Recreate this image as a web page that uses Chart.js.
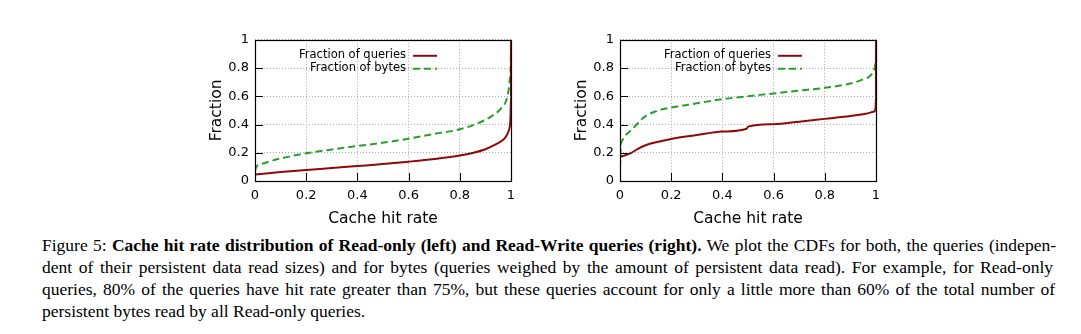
<!DOCTYPE html>
<html>
<head>
<meta charset="utf-8">
<script src="https://cdn.jsdelivr.net/npm/chart.js@4.4.0/dist/chart.umd.min.js"></script>
<style>
  body { margin: 0; background: #fff; width: 1081px; height: 334px; overflow: hidden; position: relative; }
  .plot { position: absolute; top: 26px; width: 340px; height: 204px; }
  #left-plot { left: 190px; }
  #right-plot { left: 555px; }
  .caption { position: absolute; left: 42px; font-family: 'Liberation Serif', 'Times New Roman', serif;
             font-size: 17.5px; color: #000; white-space: nowrap; line-height: 22px; }
  .caption b { font-weight: bold; }
</style>
</head>
<body>
<div class="plot" id="left-plot"><canvas id="chart-left" width="340" height="204"></canvas></div>
<div class="plot" id="right-plot"><canvas id="chart-right" width="340" height="204"></canvas></div>

<div class="caption" id="cap1" style="top:234px" data-fit="1014">Figure 5: <b>Cache hit rate distribution of Read-only (left) and Read-Write queries (right).</b> We plot the CDFs for both, the queries (indepen-</div>
<div class="caption" id="cap2" style="top:256px" data-fit="1011">dent of their persistent data read sizes) and for bytes (queries weighed by the amount of persistent data read). For example, for Read-only</div>
<div class="caption" id="cap3" style="top:278px" data-fit="1013">queries, 80% of the queries have hit rate greater than 75%, but these queries account for only a little more than 60% of the total number of</div>
<div class="caption" id="cap4" style="top:300px">persistent bytes read by all Read-only queries.</div>

<script>
// --- DATA ---
const tickValues = [0, 0.2, 0.4, 0.6, 0.8, 1];
const tickLabels = ['0', '0.2', '0.4', '0.6', '0.8', '1'];
const seriesNames = ['Fraction of queries', 'Fraction of bytes'];

// Read-only (left)
const roQueriesX = [0, 0.1, 0.2, 0.3, 0.4, 0.5, 0.6, 0.7, 0.8, 0.85, 0.9, 0.93, 0.96, 0.975, 0.984, 0.99, 0.995, 0.998, 1, 1];
const roQueriesY = [0.046, 0.063, 0.078, 0.092, 0.106, 0.12, 0.137, 0.156, 0.18, 0.198, 0.225, 0.25, 0.28, 0.302, 0.326, 0.35, 0.385, 0.45, 0.6, 1];
const roBytesX = [0, 0.005, 0.022, 0.06, 0.113, 0.2, 0.308, 0.4, 0.503, 0.6, 0.698, 0.8, 0.88, 0.932, 0.965, 0.984, 0.995, 0.999, 1];
const roBytesY = [0.07, 0.1, 0.118, 0.14, 0.165, 0.196, 0.225, 0.248, 0.272, 0.3, 0.333, 0.366, 0.416, 0.468, 0.522, 0.586, 0.716, 0.85, 1];

// Read-Write (right)
const rwQueriesX = [0, 0, 0.02, 0.04, 0.07, 0.1, 0.15, 0.2, 0.3, 0.4, 0.495, 0.5, 0.6, 0.7, 0.8, 0.9, 0.96, 0.99, 0.998, 1, 1];
const rwQueriesY = [0.16, 0.172, 0.182, 0.195, 0.228, 0.253, 0.278, 0.298, 0.325, 0.35, 0.37, 0.385, 0.402, 0.42, 0.44, 0.46, 0.476, 0.49, 0.51, 0.6, 1];
const rwBytesX = [0, 0.003, 0.01, 0.02, 0.05, 0.08, 0.1, 0.15, 0.2, 0.3, 0.4, 0.5, 0.6, 0.7, 0.8, 0.9, 0.95, 0.98, 0.995, 1, 1];
const rwBytesY = [0.1, 0.25, 0.29, 0.32, 0.37, 0.43, 0.46, 0.5, 0.52, 0.55, 0.58, 0.6, 0.62, 0.64, 0.66, 0.69, 0.72, 0.75, 0.8, 0.86, 1];

const RED = '#8e0a0a';
const GREEN = '#2a9e2a';

function toPoints(xs, ys) {
    return xs.map((x, i) => ({ x: x, y: ys[i] }));
}

// gnuplot-like frame, inner ticks and legend
const framePlugin = {
    id: 'frame',
    afterDatasetsDraw(chart) {
        const { ctx, chartArea: a, scales } = chart;
        ctx.save();
        ctx.strokeStyle = '#000';
        ctx.lineWidth = 1;
        ctx.beginPath();
        tickValues.forEach(v => {
            const px = Math.round(scales.x.getPixelForValue(v)) + 0.5;
            ctx.moveTo(px, a.bottom);
            ctx.lineTo(px, a.bottom - 8);
            const py = Math.round(scales.y.getPixelForValue(v)) + 0.5;
            ctx.moveTo(a.left, py);
            ctx.lineTo(a.left + 8, py);
        });
        ctx.stroke();
        ctx.lineWidth = 1.2;
        ctx.strokeRect(Math.round(a.left) + 0.5, Math.round(a.top) + 0.5,
                       Math.round(a.right - a.left), Math.round(a.bottom - a.top));

        // legend, text right aligned with a line sample after it
        ctx.font = "11.5px 'DejaVu Sans'";
        ctx.textAlign = 'right';
        ctx.textBaseline = 'middle';
        chart.data.datasets.forEach((ds, i) => {
            const y = a.top + 15.5 + i * 13;
            ctx.fillStyle = '#000';
            ctx.fillText(ds.label, a.right - 105, y);
            ctx.strokeStyle = ds.borderColor;
            ctx.lineWidth = 2;
            ctx.setLineDash(ds.borderDash || []);
            ctx.beginPath();
            ctx.moveTo(a.right - 98, y + 0.5);
            ctx.lineTo(a.right - 74, y + 0.5);
            ctx.stroke();
        });
        ctx.restore();
    }
};

function renderCdfChart(canvasId, qx, qy, bx, by) {
    const ctx = document.getElementById(canvasId);
    const tickFont = { family: "'DejaVu Sans'", size: 13 };
    const titleFont = { family: "'DejaVu Sans'", size: 15.5 };

    return new Chart(ctx, {
        type: 'line',
        data: {
            datasets: [
                {
                    label: seriesNames[0],
                    data: toPoints(qx, qy),
                    borderColor: RED,
                    borderWidth: 2,
                    pointRadius: 0,
                    cubicInterpolationMode: 'monotone',
                    fill: false
                },
                {
                    label: seriesNames[1],
                    data: toPoints(bx, by),
                    borderColor: GREEN,
                    borderWidth: 2,
                    borderDash: [7, 4],
                    pointRadius: 0,
                    cubicInterpolationMode: 'monotone',
                    fill: false
                }
            ]
        },
        options: {
            responsive: false,
            animation: false,
            events: [],
            layout: { padding: { left: 0, right: 19, top: 10, bottom: 0 } },
            plugins: { legend: { display: false }, tooltip: { enabled: false } },
            scales: {
                x: {
                    type: 'linear',
                    min: 0,
                    max: 1,
                    afterBuildTicks: s => { s.ticks = tickValues.map(v => ({ value: v })); },
                    afterFit: s => { s.height = 49; },
                    grid: { color: '#a8a8a8', lineWidth: 1, drawTicks: false },
                    border: { display: false, dash: [1, 2] },
                    ticks: {
                        color: '#000',
                        font: tickFont,
                        padding: 7,
                        maxRotation: 0,
                        callback: (v, i) => tickLabels[i]
                    },
                    title: { display: true, text: 'Cache hit rate', color: '#000', font: titleFont, padding: { top: 0, bottom: 2 } }
                },
                y: {
                    type: 'linear',
                    min: 0,
                    max: 1,
                    afterBuildTicks: s => { s.ticks = tickValues.map(v => ({ value: v })); },
                    afterFit: s => { s.width = 65; },
                    grid: { color: '#a8a8a8', lineWidth: 1, drawTicks: false },
                    border: { display: false, dash: [1, 2] },
                    ticks: {
                        color: '#000',
                        font: tickFont,
                        padding: 6,
                        callback: (v, i) => tickLabels[i]
                    },
                    title: { display: true, text: 'Fraction', color: '#000', font: titleFont, padding: { top: 18, bottom: 0 } }
                }
            }
        },
        plugins: [framePlugin]
    });
}

renderCdfChart('chart-left', roQueriesX, roQueriesY, roBytesX, roBytesY);
renderCdfChart('chart-right', rwQueriesX, rwQueriesY, rwBytesX, rwBytesY);

// stretch caption lines to the full text width (justified look)
document.querySelectorAll('.caption[data-fit]').forEach(el => {
    const target = parseFloat(el.dataset.fit);
    const w = el.getBoundingClientRect().width;
    const spaces = (el.textContent.match(/ /g) || []).length;
    if (spaces > 0) el.style.wordSpacing = ((target - w) / spaces) + 'px';
});
</script>
</body>
</html>
